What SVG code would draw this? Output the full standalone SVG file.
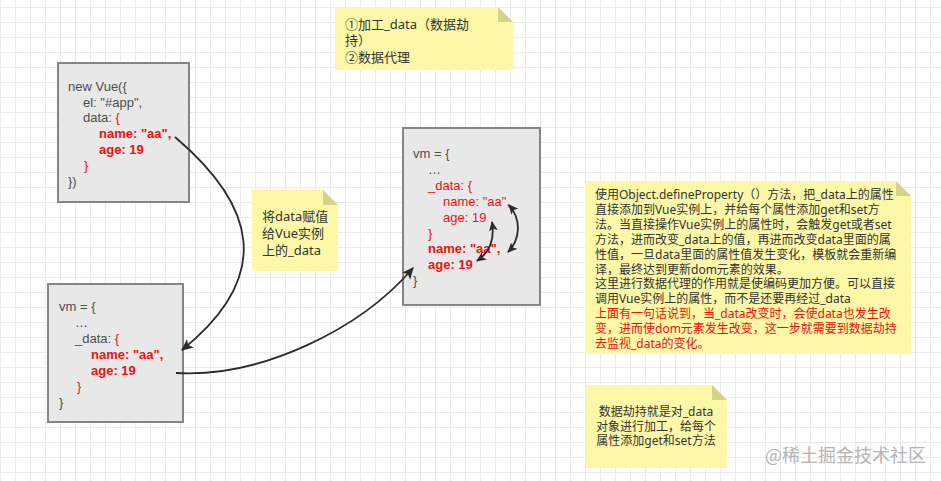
<svg xmlns="http://www.w3.org/2000/svg" width="941" height="481" viewBox="0 0 941 481">
<style>
text{font-family:"Noto Sans","Noto Sans CJK SC",sans-serif;}
.code{font-family:"Liberation Sans","Noto Sans CJK SC",sans-serif;font-size:13px;fill:#4d4d4d;}
.b{font-weight:bold;}
.box{fill:#e8e8e8;stroke:#858585;stroke-width:2;}
.note{fill:#fdf8a8;}
.fold{fill:#d6d28a;}
.nt{font-size:13px;fill:#333;}
.nt2{font-size:12px;fill:#333;}
.red{fill:#ee1111;}
.conn{fill:none;stroke:#2b2b2b;stroke-width:1.8;}
</style>
<defs>
<pattern id="grid" width="15" height="15" patternUnits="userSpaceOnUse" x="0" y="7">
<rect x="0" y="0" width="15" height="15" fill="#fff"/>
<rect x="0" y="0" width="1" height="15" fill="#ebebeb"/>
<rect x="0" y="0" width="15" height="1" fill="#ebebeb"/>
</pattern>
<marker id="arr" viewBox="0 0 10 10" refX="9" refY="5" markerWidth="10" markerHeight="10" markerUnits="userSpaceOnUse" orient="auto-start-reverse">
<path d="M0,0.5 L10,5 L0,9.5 L2.5,5 Z" fill="#2b2b2b"/>
</marker>
<marker id="arr2" viewBox="0 0 10 10" refX="9" refY="5" markerWidth="12" markerHeight="12" markerUnits="userSpaceOnUse" orient="auto-start-reverse">
<path d="M0,0.5 L10,5 L0,9.5 L2.5,5 Z" fill="#2b2b2b"/>
</marker>
</defs>
<rect x="0" y="0" width="941" height="481" fill="url(#grid)"/>

<g id="note-top">
<path class="note" d="M335,7 H498 L513,22 V70 H335 Z"/>
<path class="fold" d="M498,7 L513,22 H498 Z"/>
<text class="nt" x="345" y="28.5">①加工_data（数据劫</text>
<text class="nt" x="345" y="45">持）</text>
<text class="nt" x="345" y="61.5">②数据代理</text>
</g>

<g id="box-newvue">
<rect class="box" x="58" y="63" width="131" height="139"/>
<text class="code" x="68" y="91">new Vue({</text>
<text class="code" x="83" y="107">el: "#app",</text>
<text class="code" x="83" y="122">data: <tspan class="red">{</tspan></text>
<text class="code red b" x="99" y="138">name: "aa",</text>
<text class="code red b" x="99" y="154">age: 19</text>
<text class="code red" x="84" y="170">}</text>
<text class="code" x="68" y="186">})</text>
</g>

<g id="note-assign">
<path class="note" d="M252,190 H323 L338,205 V271 H252 Z"/>
<path class="fold" d="M323,190 L338,205 H323 Z"/>
<text class="nt" x="262" y="221">将data赋值</text>
<text class="nt" x="262" y="238">给Vue实例</text>
<text class="nt" x="262" y="254.5">上的_data</text>
</g>

<g id="box-vm-top">
<rect class="box" x="403" y="128" width="137" height="177"/>
<text class="code" x="413" y="158">vm = {</text>
<text class="code" x="428" y="174">…</text>
<text class="code red" x="428" y="190">_data: {</text>
<text class="code red" x="443" y="206">name: "aa",</text>
<text class="code red" x="443" y="222">age: 19</text>
<text class="code red" x="428" y="238">}</text>
<text class="code red b" x="428" y="253">name: "aa",</text>
<text class="code red b" x="428" y="269">age: 19</text>
<text class="code" x="413" y="285">}</text>
</g>

<g id="box-vm-bottom">
<rect class="box" x="48" y="284" width="135" height="138"/>
<text class="code" x="59" y="311">vm = {</text>
<text class="code" x="75" y="327">…</text>
<text class="code" x="75" y="343">_data: <tspan class="red">{</tspan></text>
<text class="code red b" x="91" y="359">name: "aa",</text>
<text class="code red b" x="91" y="375">age: 19</text>
<text class="code red" x="77" y="391">}</text>
<text class="code" x="59" y="407">}</text>
</g>

<g id="note-explain">
<path class="note" d="M585,181 H896 L911,196 V354 H585 Z"/>
<path class="fold" d="M896,181 L911,196 H896 Z"/>
<text class="nt2" x="595" y="199.3">使用Object.defineProperty（）方法，把_data上的属性</text>
<text class="nt2" x="595" y="214.2">直接添加到Vue实例上，并给每个属性添加get和set方</text>
<text class="nt2" x="595" y="229">法。当直接操作Vue实例上的属性时，会触发get或者set</text>
<text class="nt2" x="595" y="243.9">方法，进而改变_data上的值，再进而改变data里面的属</text>
<text class="nt2" x="595" y="258.7">性值，一旦data里面的属性值发生变化，模板就会重新编</text>
<text class="nt2" x="595" y="273.6">译，最终达到更新dom元素的效果。</text>
<text class="nt2" x="595" y="288.4">这里进行数据代理的作用就是使编码更加方便。可以直接</text>
<text class="nt2" x="595" y="303.3">调用Vue实例上的属性，而不是还要再经过_data</text>
<text class="nt2 red" x="595" y="318.1">上面有一句话说到，当_data改变时，会使data也发生改</text>
<text class="nt2 red" x="595" y="333">变，进而使dom元素发生改变，这一步就需要到数据劫持</text>
<text class="nt2 red" x="595" y="347.8">去监视_data的变化。</text>
</g>

<g id="note-hijack">
<path class="note" d="M586,385 H712 L727,400 V468 H586 Z"/>
<path class="fold" d="M712,385 L727,400 H712 Z"/>
<text class="nt2" x="656" y="416" text-anchor="middle">数据劫持就是对_data</text>
<text class="nt2" x="656" y="430.5" text-anchor="middle">对象进行加工，给每个</text>
<text class="nt2" x="656" y="445" text-anchor="middle">属性添加get和set方法</text>
</g>

<g id="connectors">
<path class="conn" d="M175,137 C255,205 275,275 182,350" marker-end="url(#arr2)"/>
<path class="conn" d="M176,373 C260,378 360,330 413,268" marker-end="url(#arr2)"/>
<path class="conn" d="M492,222 C495,240 490,252 477,261" marker-start="url(#arr)" marker-end="url(#arr)"/>
<path class="conn" d="M509,205 C522,220 520,240 508,252" marker-start="url(#arr)" marker-end="url(#arr)"/>
</g>

<text x="765" y="462" font-size="18" fill="#b4b4b4" style="font-family:'Noto Sans CJK SC',sans-serif">@稀土掘金技术社区</text>
</svg>
